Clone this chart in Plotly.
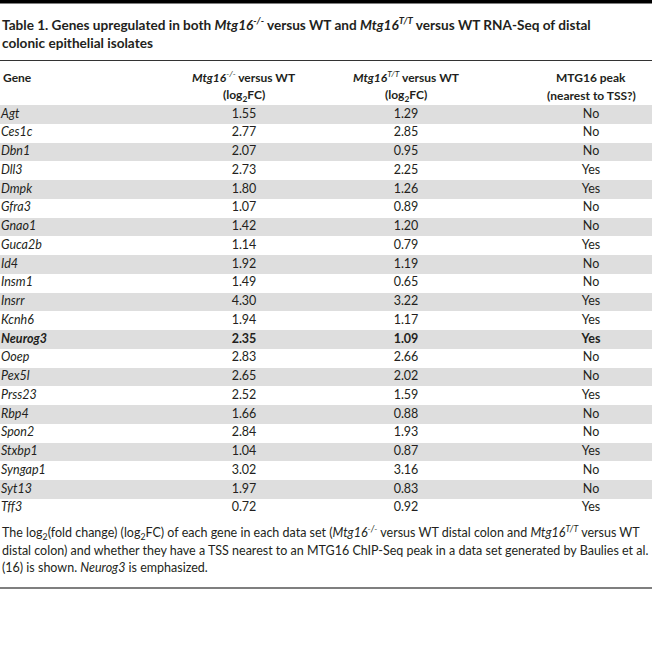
import plotly.graph_objects as go

# ---- data ----
genes = ["Agt", "Ces1c", "Dbn1", "Dll3", "Dmpk", "Gfra3", "Gnao1", "Guca2b", "Id4",
         "Insm1", "Insrr", "Kcnh6", "Neurog3", "Ooep", "Pex5l", "Prss23", "Rbp4",
         "Spon2", "Stxbp1", "Syngap1", "Syt13", "Tff3"]
ko_vs_wt = [1.55, 2.77, 2.07, 2.73, 1.80, 1.07, 1.42, 1.14, 1.92, 1.49, 4.30, 1.94,
            2.35, 2.83, 2.65, 2.52, 1.66, 2.84, 1.04, 3.02, 1.97, 0.72]
tt_vs_wt = [1.29, 2.85, 0.95, 2.25, 1.26, 0.89, 1.20, 0.79, 1.19, 0.65, 3.22, 1.17,
            1.09, 2.66, 2.02, 1.59, 0.88, 1.93, 0.87, 3.16, 0.83, 0.92]
mtg16_peak = ["No", "No", "No", "Yes", "Yes", "No", "No", "Yes", "No", "No", "Yes", "Yes",
              "Yes", "No", "No", "Yes", "No", "No", "Yes", "No", "No", "Yes"]
emphasized = "Neurog3"

title_lines = [
    "<b>Table 1. Genes upregulated in both <i>Mtg16<sup>-/-</sup></i> versus WT and "
    "<i>Mtg16<sup>T/T</sup></i> versus WT RNA-Seq of distal</b>",
    "<b>colonic epithelial isolates</b>",
]
header_line1 = ["<b>Gene</b>", "<b><i>Mtg16</i></b><sup><i>-/-</i></sup><b> versus WT</b>",
                "<b><i>Mtg16</i></b><sup><i>T/T</i></sup><b> versus WT</b>", "<b>MTG16 peak</b>"]
header_line2 = ["", "<b>(log<sub>2</sub>FC)</b>", "<b>(log<sub>2</sub>FC)</b>",
                "<b>(nearest to TSS?)</b>"]
footnote_lines = [
    "The log<sub>2</sub>(fold change) (log<sub>2</sub>FC) of each gene in each data set "
    "(<i>Mtg16<sup>-/-</sup></i> versus WT distal colon and <i>Mtg16<sup>T/T</sup></i> versus WT",
    "distal colon) and whether they have a TSS nearest to an MTG16 ChIP-Seq peak in a data set "
    "generated by Baulies et al.",
    "(16) is shown. <i>Neurog3</i> is emphasized.",
]

# ---- layout constants ----
W, H = 652, 649
FONT = "Lato, sans-serif"
TXT = "#231f20"
BAND = "#dedede"
col_x = [1, 244, 406, 591]          # pixel positions of columns
body_top, body_bottom = 105, 517.5  # pixel extent of body rows
title_y = [24, 43]
header_y = [77, 95]
foot_y = [532, 550, 567]
TITLE_SIZE, HEAD_SIZE, BODY_SIZE, FOOT_SIZE = 13.6, 12, 12.5, 12.5


def py(p):
    return 1 - p / H


n = len(genes)
rows = list(range(n))


def fmt(v, g):
    s = f"{v:.2f}"
    return f"<b>{s}</b>" if g == emphasized else s


gene_txt = [f"<b><i>{g}</i></b>" if g == emphasized else f"<i>{g}</i>" for g in genes]
ko_txt = [fmt(v, g) for v, g in zip(ko_vs_wt, genes)]
tt_txt = [fmt(v, g) for v, g in zip(tt_vs_wt, genes)]
pk_txt = [f"<b>{p}</b>" if g == emphasized else p for p, g in zip(mtg16_peak, genes)]

fig = go.Figure()

# alternating grey bands
band_rows = [i for i in rows if i % 2 == 0]
fig.add_trace(go.Bar(y=band_rows, x=[W] * len(band_rows), base=0, orientation="h",
                     width=1, marker=dict(color=BAND, line=dict(width=0)),
                     hoverinfo="skip", showlegend=False))

tf = dict(family=FONT, size=BODY_SIZE, color=TXT)
fig.add_trace(go.Scatter(x=[col_x[0]] * n, y=rows, text=gene_txt, mode="text",
                         textposition="middle right", textfont=tf,
                         hoverinfo="skip", showlegend=False))
for cx, txt in zip(col_x[1:], [ko_txt, tt_txt, pk_txt]):
    fig.add_trace(go.Scatter(x=[cx] * n, y=rows, text=txt, mode="text",
                             textposition="middle center", textfont=tf,
                             hoverinfo="skip", showlegend=False))

annotations = []
for yv, line in zip(title_y, title_lines):
    annotations.append(dict(x=0, y=py(yv), xref="paper", yref="paper", text=line,
                            showarrow=False, xanchor="left", yanchor="middle",
                            font=dict(family=FONT, size=TITLE_SIZE, color=TXT)))
for i, cx in enumerate(col_x):
    for yv, lines in zip(header_y, [header_line1, header_line2]):
        if not lines[i]:
            continue
        annotations.append(dict(x=cx / W, y=py(yv), xref="paper", yref="paper",
                                text=lines[i], showarrow=False,
                                xanchor="left" if i == 0 else "center", yanchor="middle",
                                font=dict(family=FONT, size=HEAD_SIZE, color=TXT)))
for yv, line in zip(foot_y, footnote_lines):
    annotations.append(dict(x=0, y=py(yv), xref="paper", yref="paper", text=line,
                            showarrow=False, xanchor="left", yanchor="middle",
                            font=dict(family=FONT, size=FOOT_SIZE, color=TXT)))

shapes = [
    dict(type="rect", xref="paper", yref="paper", x0=0, x1=1, y0=py(3.5), y1=1,
         fillcolor="#000000", line=dict(width=0), layer="above"),
    dict(type="line", xref="paper", yref="paper", x0=0, x1=1, y0=py(60.5), y1=py(60.5),
         line=dict(color="#333333", width=1), layer="above"),
    dict(type="line", xref="paper", yref="paper", x0=0, x1=1, y0=py(588), y1=py(588),
         line=dict(color="#555555", width=1.5), layer="above"),
]

fig.update_layout(
    width=W, height=H, margin=dict(l=0, r=0, t=0, b=0),
    paper_bgcolor="white", plot_bgcolor="white",
    xaxis=dict(range=[0, W], visible=False, fixedrange=True),
    yaxis=dict(range=[n - 0.5, -0.5], domain=[py(body_bottom), py(body_top)],
               visible=False, fixedrange=True),
    annotations=annotations, shapes=shapes, bargap=0,
)

fig.write_html("out.html", config={"displayModeBar": False},
               post_script="document.body.style.margin='0';"
                           "document.body.style.overflow='hidden';")
